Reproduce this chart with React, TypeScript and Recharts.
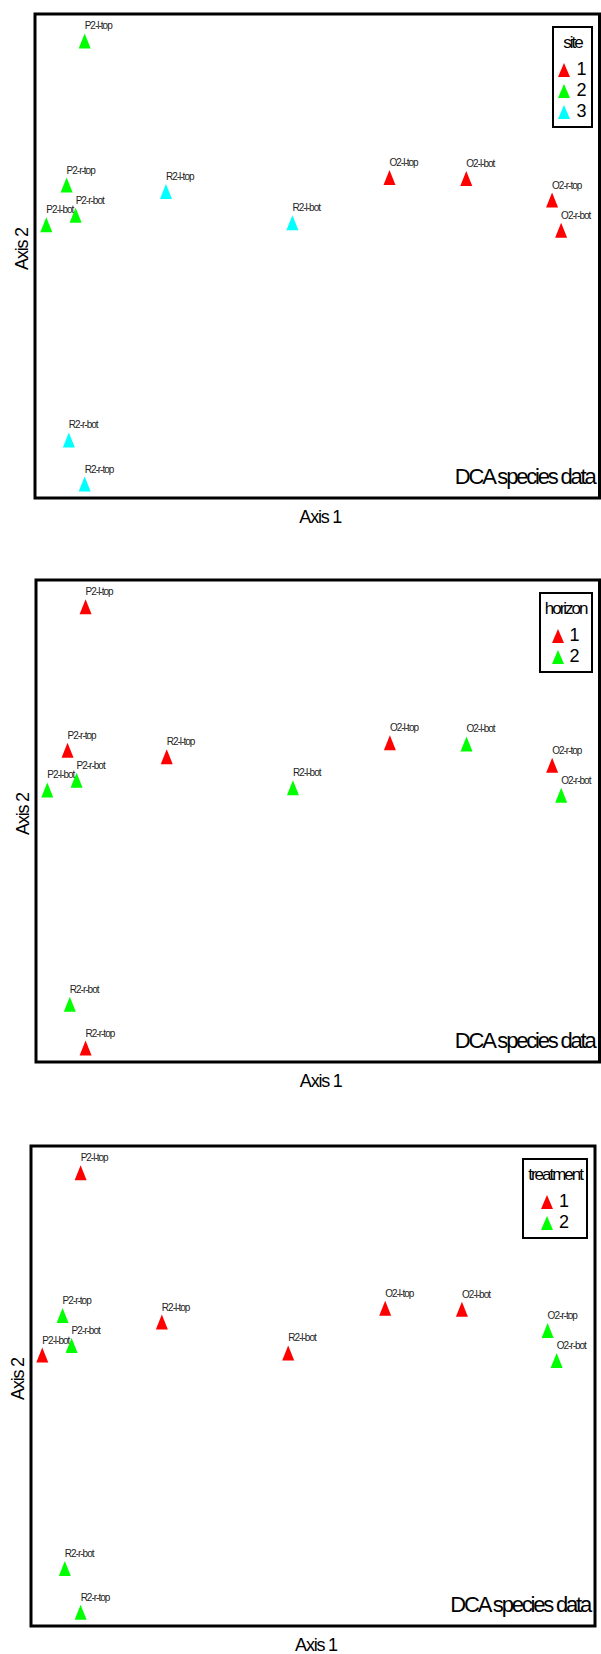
import { ScatterChart, Scatter, XAxis, YAxis, ReferenceArea, Legend } from "recharts";

// DCA sample scores (axis 1 / axis 2) and the three grouping factors
const sampleNames = [
  "O2-l-top", "O2-l-bot", "O2-r-top", "O2-r-bot",
  "P2-l-top", "P2-l-bot", "P2-r-top", "P2-r-bot",
  "R2-l-top", "R2-l-bot", "R2-r-top", "R2-r-bot",
];
const axis1Scores = [2.14, 2.82, 3.58, 3.66, -0.56, -0.9, -0.72, -0.64, 0.16, 1.28, -0.56, -0.7];
const axis2Scores = [-0.02, -0.03, -0.23, -0.51, 1.25, -0.46, -0.09, -0.37, -0.15, -0.44, -2.87, -2.46];
const siteGroup = [1, 1, 1, 1, 2, 2, 2, 2, 3, 3, 3, 3];
const horizonGroup = [1, 2, 1, 2, 1, 2, 1, 2, 1, 2, 1, 2];
const treatmentGroup = [1, 1, 2, 2, 1, 1, 2, 2, 1, 1, 2, 2];

const groupColors = ["#ff0000", "#00ff00", "#00ffff"];
const xDomain = [-1, 4];
const yDomain = [-3, 1.5];

const FONT = "'Liberation Sans', Arial, sans-serif";
const WIDTH = 601;
const Y_AXIS_W = 26;
const X_AXIS_H = 28;

const panels = [
  { title: "site", groups: siteGroup, top: 0, height: 545, frame: { left: 35, top: 14, right: 599.5, bottom: 498 } },
  { title: "horizon", groups: horizonGroup, top: 560, height: 545, frame: { left: 36, top: 20, right: 599.5, bottom: 502 } },
  { title: "treatment", groups: treatmentGroup, top: 1126, height: 528, frame: { left: 31, top: 20, right: 595, bottom: 500 } },
];

const points = sampleNames.map((name, i) => ({ name, x: axis1Scores[i], y: axis2Scores[i] }));

function seriesFor(groups: number[]) {
  const ids = Array.from(new Set(groups)).sort((a, b) => a - b);
  return ids.map((g) => ({
    id: g,
    color: groupColors[g - 1],
    data: points.filter((_, i) => groups[i] === g),
  }));
}

const Triangle = (props: any) => {
  const { cx, cy, fill, payload } = props;
  return (
    <g>
      <polygon points={`${cx - 6},${cy + 7.5} ${cx + 6},${cy + 7.5} ${cx},${cy - 7.5}`} fill={fill} />
      <text x={cx} y={cy - 11.5} fontSize={10} letterSpacing={-1} fill="#222">
        {payload.name}
      </text>
    </g>
  );
};

const GroupLegend = ({ title, payload }: { title: string; payload?: any[] }) => (
  <div style={{ display: "flex", justifyContent: "flex-end" }}>
    <div
      style={{
        border: "2px solid #000",
        background: "#fff",
        padding: "0 4px 4px",
        textAlign: "center",
        fontFamily: FONT,
        color: "#000",
      }}
    >
      <div style={{ fontSize: 17, letterSpacing: -2, lineHeight: "20px", padding: "5px 0 6px" }}>{title}</div>
      {(payload || []).map((entry) => (
        <div
          key={entry.value}
          style={{ height: 21, display: "flex", alignItems: "center", justifyContent: "center" }}
        >
          <svg width={12} height={14}>
            <polygon points="0,14 12,14 6,0" fill={entry.color} />
          </svg>
          <span style={{ marginLeft: 6, fontSize: 18, lineHeight: "21px" }}>{entry.value}</span>
        </div>
      ))}
    </div>
  </div>
);

const Panel = ({ panel }: { panel: (typeof panels)[number] }) => {
  const f = panel.frame;
  const series = seriesFor(panel.groups);
  return (
    <ScatterChart
      width={WIDTH}
      height={panel.height}
      margin={{
        top: f.top,
        left: f.left - Y_AXIS_W,
        right: WIDTH - f.right,
        bottom: panel.height - f.bottom - X_AXIS_H,
      }}
    >
      <XAxis
        type="number"
        dataKey="x"
        domain={xDomain}
        height={X_AXIS_H}
        tick={false}
        tickLine={false}
        axisLine={false}
        label={{ value: "Axis 1", position: "insideTop", offset: 12, dx: 3, fontSize: 18, letterSpacing: -1.2, fill: "#000" }}
      />
      <YAxis
        type="number"
        dataKey="y"
        domain={yDomain}
        width={Y_AXIS_W}
        tick={false}
        tickLine={false}
        axisLine={false}
        label={{ value: "Axis 2", angle: -90, position: "center", dy: -7, fontSize: 18, letterSpacing: -1.2, fill: "#000" }}
      />
      <ReferenceArea
        x1={xDomain[0]}
        x2={xDomain[1]}
        y1={yDomain[0]}
        y2={yDomain[1]}
        fill="none"
        stroke="#000"
        strokeWidth={3}
        label={{
          value: "DCA species data",
          position: "insideBottomRight",
          offset: 7,
          dy: -7,
          dx: 2,
          fontSize: 22,
          letterSpacing: -2.2,
          fill: "#000",
        }}
      />
      {/* boxed legend pinned to the top-right corner inside the frame */}
      <Legend
        verticalAlign="top"
        align="right"
        layout="horizontal"
        wrapperStyle={{ left: 0, top: f.top + 12, width: f.right - 7, height: 0 }}
        content={(props: any) => <GroupLegend title={panel.title} payload={props.payload} />}
      />
      {series.map((s) => (
        <Scatter
          key={s.id}
          name={String(s.id)}
          data={s.data}
          fill={s.color}
          shape={Triangle}
          isAnimationActive={false}
        />
      ))}
    </ScatterChart>
  );
};

export default function App() {
  return (
    <div
      style={{
        position: "absolute",
        left: 0,
        top: 0,
        width: WIDTH,
        height: 1654,
        background: "#fff",
        fontFamily: FONT,
      }}
    >
      {panels.map((p) => (
        <div key={p.title} style={{ position: "absolute", left: 0, top: p.top }}>
          <Panel panel={p} />
        </div>
      ))}
    </div>
  );
}
